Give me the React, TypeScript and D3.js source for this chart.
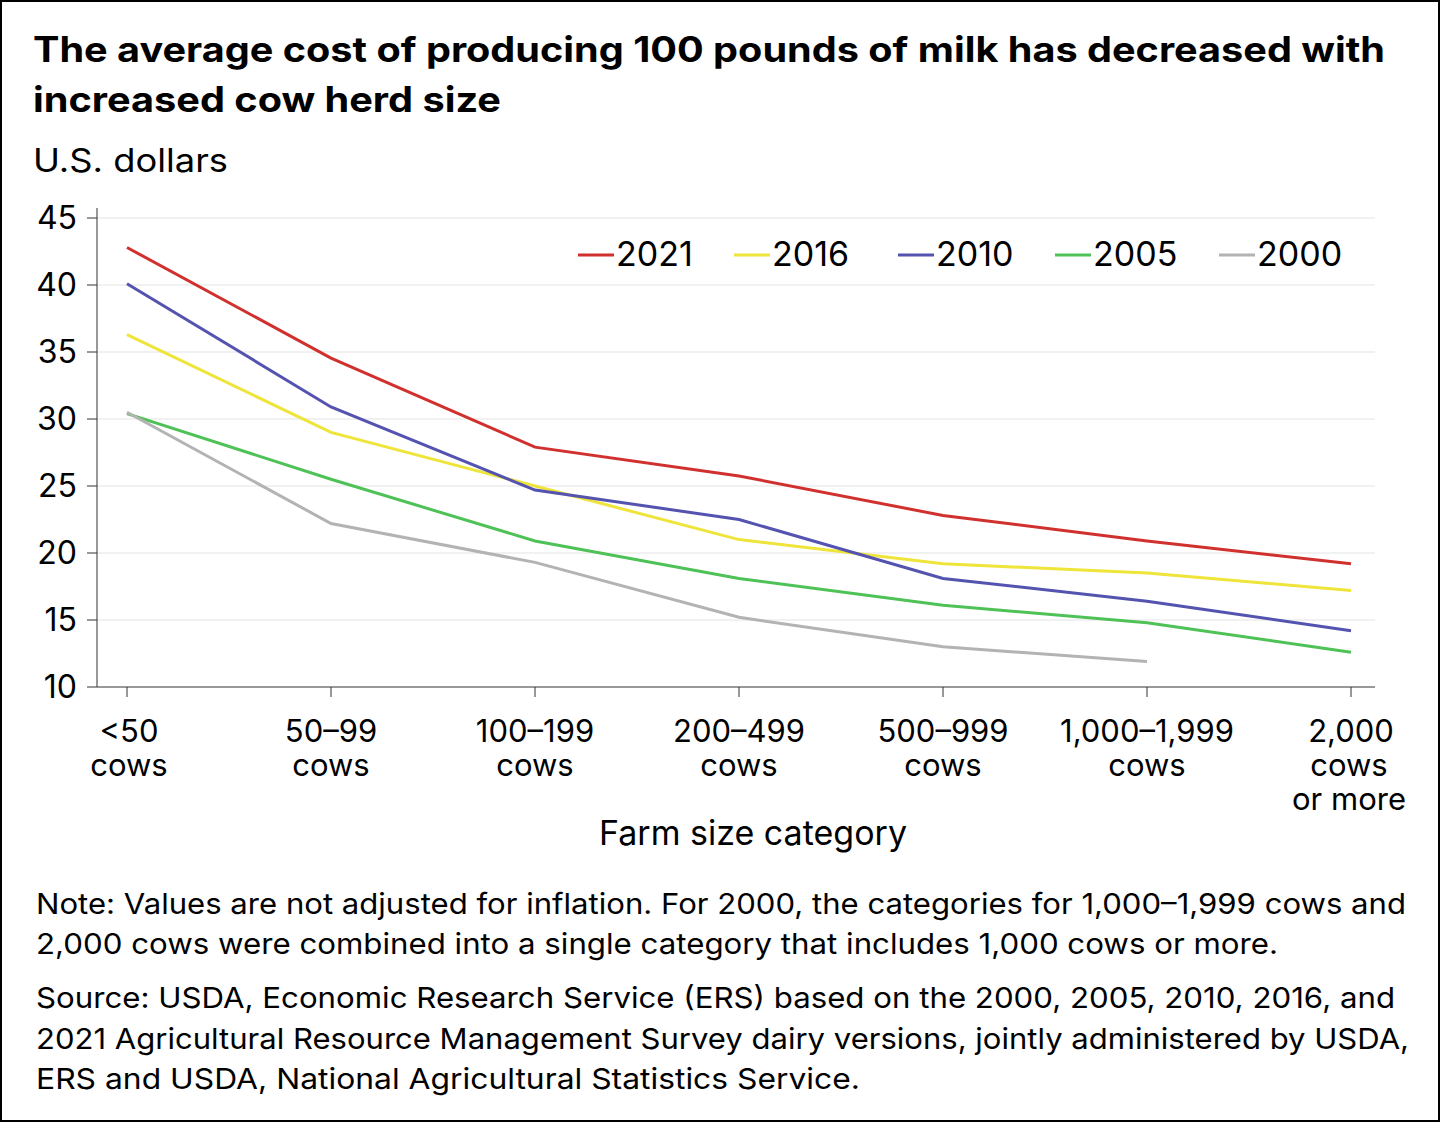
import React from 'react'
import * as d3 from 'd3'

const categories = ['<50|cows', '50–99|cows', '100–199|cows', '200–499|cows', '500–999|cows', '1,000–1,999|cows', '2,000|cows|or more']
const yTicks = [10, 15, 20, 25, 30, 35, 40, 45]
const series = [
  { name: '2021', color: '#d1312e', values: [42.8, 34.55, 27.9, 25.75, 22.8, 20.9, 19.2] },
  { name: '2016', color: '#eee43a', values: [36.3, 29.0, 25.0, 21.0, 19.2, 18.5, 17.2] },
  { name: '2010', color: '#5453b0', values: [40.1, 30.9, 24.7, 22.5, 18.1, 16.4, 14.2] },
  { name: '2005', color: '#4fc257', values: [30.4, 25.5, 20.9, 18.1, 16.1, 14.8, 12.6] },
  { name: '2000', color: '#b3b3b3', values: [30.5, 22.2, 19.3, 15.2, 13.0, 11.9] },
]
const legendX = [578, 734, 898, 1055, 1219]
const notes = [
  { t: 'Note: Values are not adjusted for inflation. For 2000, the categories for 1,000–1,999 cows and', y: 914, w: 1370 },
  { t: '2,000 cows were combined into a single category that includes 1,000 cows or more.', y: 954, w: 1242 },
  { t: 'Source: USDA, Economic Research Service (ERS) based on the 2000, 2005, 2010, 2016, and', y: 1008, w: 1359 },
  { t: '2021 Agricultural Resource Management Survey dairy versions, jointly administered by USDA,', y: 1049, w: 1373 },
  { t: 'ERS and USDA, National Agricultural Statistics Service.', y: 1089, w: 824 },
]

const font = 'Inter, Roboto, sans-serif'

export default function App() {
  const x = d3.scalePoint<number>().domain(d3.range(categories.length)).range([127, 1351])
  const y = d3.scaleLinear().domain([10, 45]).range([687, 218])
  const line = d3.line<number>().x((_, i) => x(i)!).y(d => y(d))
  return (
    <div style={{ position: 'fixed', left: 0, top: 0 }}>
      <svg width={1440} height={1122} style={{ display: 'block', fontFamily: font }}>
        <rect x={1} y={1} width={1438} height={1120} fill="#fff" stroke="#000" strokeWidth={2} />
        <text x={33} y={62} fontSize={35} fontWeight={700} textLength={1352} lengthAdjust="spacingAndGlyphs">The average cost of producing 100 pounds of milk has decreased with</text>
        <text x={33} y={112} fontSize={35} fontWeight={700} textLength={468} lengthAdjust="spacingAndGlyphs">increased cow herd size</text>
        <text x={33} y={172} fontSize={33} textLength={195} lengthAdjust="spacingAndGlyphs">U.S. dollars</text>
        {yTicks.map(t => (
          <g key={t}>
            {t > 10 && <line x1={97} x2={1375} y1={y(t)} y2={y(t)} stroke="#e3e3e3" />}
            <line x1={87} x2={97} y1={y(t)} y2={y(t)} stroke="#333" />
            <text x={77} y={y(t) + 11} fontSize={32} textAnchor="end">{t}</text>
          </g>
        ))}
        <line x1={97} x2={97} y1={208} y2={687} stroke="#333" />
        <line x1={97} x2={1375} y1={687} y2={687} stroke="#333" />
        {categories.map((c, i) => (
          <g key={c}>
            <line x1={x(i)} x2={x(i)} y1={687} y2={697} stroke="#333" />
            {c.split('|').map((s, j) => (
              <text key={j} x={x(i)! + (i === 6 && j > 0 ? -2 : 0) + (i === 0 ? 2 : 0)} y={742 + j * 34} fontSize={31} textAnchor="middle">{s}</text>
            ))}
          </g>
        ))}
        <text x={753} y={845} fontSize={34} textAnchor="middle">Farm size category</text>
        {series.map(s => (
          <path key={s.name} d={line(s.values)!} fill="none" stroke={s.color} strokeWidth={3} />
        ))}
        {series.map((s, i) => (
          <g key={s.name}>
            <line x1={legendX[i]} x2={legendX[i] + 36} y1={255} y2={255} stroke={s.color} strokeWidth={3} />
            <text x={legendX[i] + 38} y={266} fontSize={34}>{s.name}</text>
          </g>
        ))}
        {notes.map(n => (
          <text key={n.y} x={36} y={n.y} fontSize={29} textLength={n.w} lengthAdjust="spacingAndGlyphs">{n.t}</text>
        ))}
      </svg>
    </div>
  )
}
